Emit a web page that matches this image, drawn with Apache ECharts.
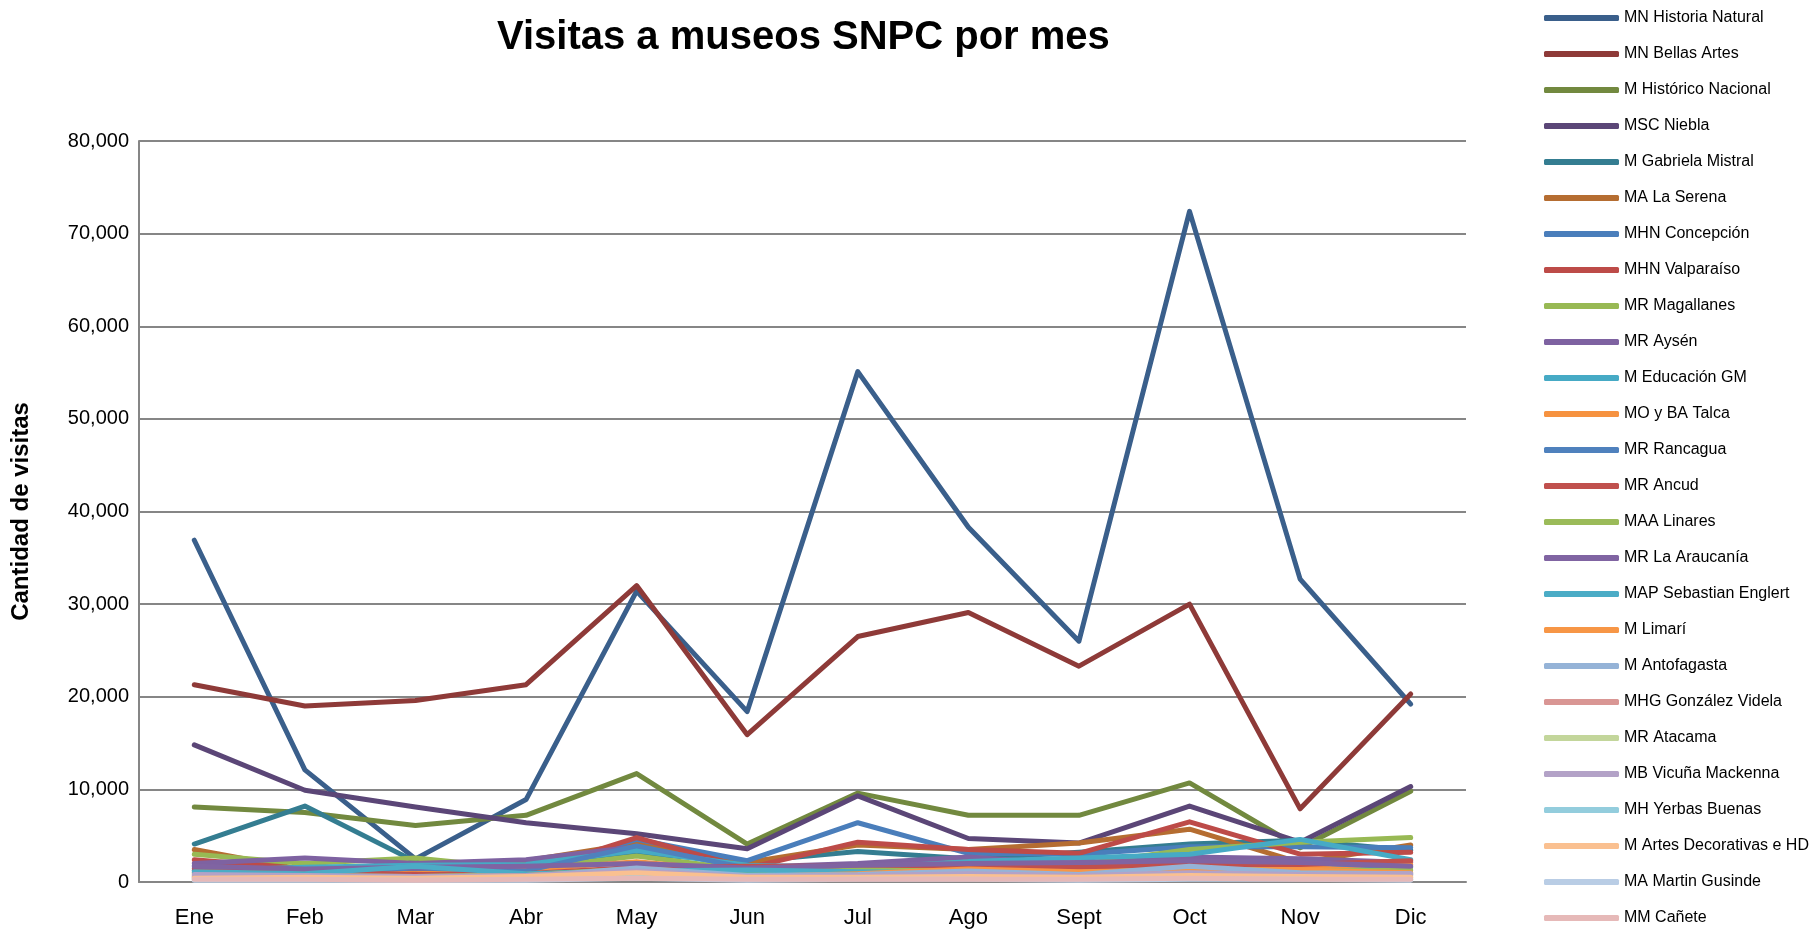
<!DOCTYPE html>
<html>
<head>
<meta charset="utf-8">
<title>Visitas a museos SNPC por mes</title>
<script src="https://cdn.jsdelivr.net/npm/echarts@6/dist/echarts.min.js"></script>
<style>
  html, body { margin: 0; padding: 0; background: #fff; }
  #main { width: 1814px; height: 929px; }
</style>
</head>
<body>
<div id="main"></div>
<script>
// meses (eje x)
var meses = ['Ene', 'Feb', 'Mar', 'Abr', 'May', 'Jun', 'Jul', 'Ago', 'Sept', 'Oct', 'Nov', 'Dic'];

// nombres de museos, en el orden de la leyenda
var museos = [
  'MN Historia Natural', 'MN Bellas Artes', 'M Histórico Nacional', 'MSC Niebla',
  'M Gabriela Mistral', 'MA La Serena', 'MHN Concepción', 'MHN Valparaíso',
  'MR Magallanes', 'MR Aysén', 'M Educación GM', 'MO y BA Talca', 'MR Rancagua',
  'MR Ancud', 'MAA Linares', 'MR La Araucanía', 'MAP Sebastian Englert', 'M Limarí',
  'M Antofagasta', 'MHG González Videla', 'MR Atacama', 'MB Vicuña Mackenna',
  'MH Yerbas Buenas', 'M Artes Decorativas e HD', 'MA Martin Gusinde', 'MM Cañete'
];

// visitas por mes
var mnHistoriaNatural = [36900, 12100, 2500, 8900, 31400, 18400, 55100, 38300, 26000, 72400, 32700, 19200];
var mnBellasArtes     = [21300, 19000, 19600, 21300, 32000, 15900, 26500, 29100, 23300, 30000, 7900, 20300];
var mHistoricoNac     = [8100, 7500, 6100, 7200, 11700, 4100, 9600, 7200, 7200, 10700, 3700, 9800];
var mscNiebla         = [14800, 9900, 8100, 6400, 5200, 3600, 9300, 4700, 4200, 8200, 4300, 10300];
var mGabrielaMistral  = [4100, 8200, 2200, 1900, 3100, 2200, 3300, 2500, 3200, 4100, 4500, 3400];
var maLaSerena        = [3500, 1300, 1100, 2300, 4200, 2100, 4000, 3500, 4200, 5700, 2100, 4000];
var mhnConcepcion     = [1800, 1500, 1200, 1100, 4600, 2300, 6400, 3100, 3000, 3800, 3800, 3700];
var mhnValparaiso     = [2400, 1400, 1300, 1000, 4800, 1500, 4300, 3500, 3100, 6500, 3000, 3200];
var mrMagallanes      = [3000, 2000, 2600, 1400, 2800, 1300, 1900, 2500, 1900, 3500, 4300, 4800];
var mrAysen           = [2000, 2600, 2000, 2400, 3800, 1600, 2000, 2700, 1900, 2700, 2500, 2100];
var mEducacionGM      = [1200, 1600, 1800, 1900, 3400, 1800, 1500, 2200, 2600, 3000, 4600, 2400];
var moyBATalca        = [1000, 1200, 900, 1300, 2200, 1100, 1700, 1800, 1500, 1800, 1500, 1900];
var mrRancagua        = [1300, 1000, 1500, 1200, 3900, 1500, 1200, 1500, 1700, 2200, 2100, 1600];
var mrAncud           = [1500, 1100, 800, 900, 1600, 1700, 1700, 1600, 1600, 1900, 1900, 2300];
var maaLinares        = [900, 700, 600, 800, 1400, 900, 1300, 1200, 1000, 1400, 1200, 1300];
var mrLaAraucania     = [1700, 1400, 1600, 1700, 2000, 1500, 1800, 2000, 2100, 2300, 2100, 1700];
var mapSebEnglert     = [1100, 900, 1700, 900, 1200, 1300, 1100, 1000, 700, 1200, 900, 800];
var mLimari           = [700, 600, 500, 700, 1300, 600, 900, 1400, 1100, 1300, 1300, 1000];
var mAntofagasta      = [600, 500, 500, 600, 1500, 700, 800, 1200, 800, 1700, 1000, 900];
var mhgGonzalezVidela = [500, 500, 400, 500, 1000, 500, 600, 700, 600, 800, 800, 700];
var mrAtacama         = [400, 400, 300, 400, 700, 400, 500, 600, 500, 600, 600, 500];
var mbVicunaMackenna  = [800, 700, 600, 700, 1200, 600, 700, 900, 700, 1000, 800, 900];
var mhYerbasBuenas    = [300, 300, 200, 300, 500, 300, 400, 400, 300, 500, 400, 300];
var mArtesDecorativas = [400, 500, 400, 600, 1000, 500, 500, 600, 500, 700, 600, 500];
var maMartinGusinde   = [200, 200, 200, 200, 400, 200, 300, 300, 200, 300, 300, 200];
var mmCanete          = [300, 300, 200, 300, 400, 300, 300, 300, 300, 400, 300, 300];

var valores = [
  mnHistoriaNatural, mnBellasArtes, mHistoricoNac, mscNiebla, mGabrielaMistral, maLaSerena,
  mhnConcepcion, mhnValparaiso, mrMagallanes, mrAysen, mEducacionGM, moyBATalca, mrRancagua,
  mrAncud, maaLinares, mrLaAraucania, mapSebEnglert, mLimari, mAntofagasta, mhgGonzalezVidela,
  mrAtacama, mbVicunaMackenna, mhYerbasBuenas, mArtesDecorativas, maMartinGusinde, mmCanete
];

var colores = [
  '#3a5f8b', '#8e3a38', '#72893f', '#5b4677', '#347d91', '#b56d31', '#4a7ebb', '#bd4b48',
  '#98b954', '#7e62a1', '#46aac5', '#f69240', '#4f81bd', '#c0504d', '#9bbb59', '#8064a2',
  '#4bacc6', '#f79646', '#95b3d7', '#d99694', '#c3d69b', '#b3a2c7', '#93cddd', '#fac090',
  '#b9cde5', '#e6b9b8'
];

var myChart = echarts.init(document.getElementById('main'));

var series = [];
for (var i = 0; i < museos.length; i++) {
  series.push({
    name: museos[i],
    type: 'line',
    data: valores[i],
    symbol: 'none',
    color: colores[i],
    lineStyle: { width: 5, cap: 'round', join: 'round' },
    emphasis: { disabled: true }
  });
}

var option = {
  animation: false,
  backgroundColor: '#fff',
  textStyle: { fontFamily: 'Liberation Sans' },
  title: {
    text: 'Visitas a museos SNPC por mes',
    left: 492,
    top: 13,
    textStyle: { fontSize: 40, fontWeight: 'bold', color: '#000', fontFamily: 'Liberation Sans' }
  },
  legend: {
    orient: 'vertical',
    left: 1539,
    top: 5,
    height: 1200,
    icon: 'roundRect',
    itemWidth: 75,
    itemHeight: 6,
    itemGap: 20,
    textStyle: { fontSize: 16, color: '#000', lineHeight: 16 },
    data: museos
  },
  grid: {
    left: 139,
    right: 348,
    top: 141,
    bottom: 47,
    containLabel: false,
    outerBoundsMode: 'none'
  },
  xAxis: {
    type: 'category',
    data: meses,
    boundaryGap: true,
    axisLine: { lineStyle: { color: '#868686', width: 2 } },
    axisTick: { show: false },
    axisLabel: { fontSize: 22, color: '#000', margin: 25 }
  },
  yAxis: {
    type: 'value',
    min: 0,
    max: 80000,
    interval: 10000,
    name: 'Cantidad de visitas',
    nameLocation: 'middle',
    nameGap: 106,
    nameTextStyle: { fontSize: 24, fontWeight: 'bold', color: '#000' },
    axisLine: { show: true, lineStyle: { color: '#868686', width: 2 } },
    axisTick: { show: false },
    splitLine: { lineStyle: { color: '#868686', width: 2 } },
    axisLabel: {
      fontSize: 20,
      color: '#000',
      margin: 10,
      formatter: function (v) { return v.toString().replace(/\B(?=(\d{3})+(?!\d))/g, ','); }
    }
  },
  series: series
};

myChart.setOption(option);
</script>
</body>
</html>
